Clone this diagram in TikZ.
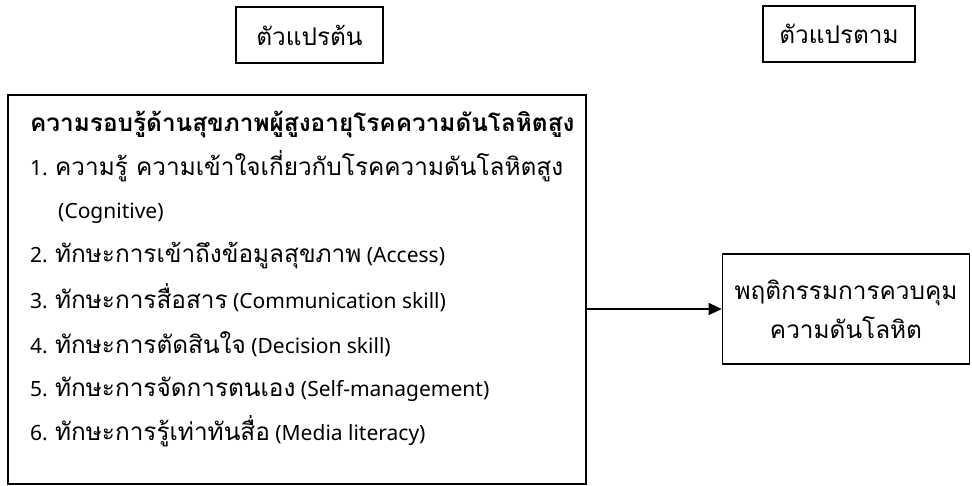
\documentclass[tikz,border=0pt]{standalone}
\usepackage{fontspec}
\setmainfont{Noto Sans}
\newfontfamily\thaifont[Script=Thai,Scale=1.16]{Loma}
\newcommand{\thx}[1]{{\thaifont #1}}
\usetikzlibrary{arrows.meta}
\tikzset{
  box/.style={draw, line width=1.6pt, inner sep=0pt},
  txt/.style={anchor=base west, inner sep=0pt, font=\fontsize{21}{25}\selectfont},
  ctxt/.style={font=\fontsize{21}{25}\selectfont},
  arr/.style={line width=1.3pt, -{Triangle[length=13pt,width=12pt]}}
}
\begin{document}
\begin{tikzpicture}[x=1pt,y=-1pt]
\useasboundingbox (0,0) rectangle (972,486);
\node[box, ctxt, minimum width=147pt, minimum height=56pt] (iv) at (309.5,35) {\thx{ตัวแปรต้น}};
\node[box, ctxt, minimum width=152pt, minimum height=56pt] (dv) at (839,34) {\thx{ตัวแปรตาม}};
\node[box, minimum width=578pt, minimum height=389pt] (main) at (297,289.5) {};
\node[box, ctxt, align=center, minimum width=247pt, minimum height=110pt] (out) at (846,309) {\thx{พฤติกรรมการควบคุม}\\[10pt]\thx{ความดันโลหิต}};
\node[txt] (t0) at (30,132) {\bfseries\thx{ความรอบรู้ด้านสุขภาพผู้สูงอายุโรคความดันโลหิตสูง}};
\node[txt] (t1) at (30,176) {1. \thx{ความรู้ ความเข้าใจเกี่ยวกับโรคความดันโลหิตสูง}};
\node[txt] (t1b) at (58,219) {(Cognitive)};
\node[txt] (t2) at (30,263) {2. \thx{ทักษะการเข้าถึงข้อมูลสุขภาพ} (Access)};
\node[txt] (t3) at (30,309) {3. \thx{ทักษะการสื่อสาร} (Communication skill)};
\node[txt] (t4) at (30,353) {4. \thx{ทักษะการตัดสินใจ} (Decision skill)};
\node[txt] (t5) at (30,396) {5. \thx{ทักษะการจัดการตนเอง} (Self-management)};
\node[txt] (t6) at (30,440) {6. \thx{ทักษะการรู้เท่าทันสื่อ} (Media literacy)};
\draw[arr] (main.east |- out.west) -- (out.west);
\end{tikzpicture}
\end{document}
